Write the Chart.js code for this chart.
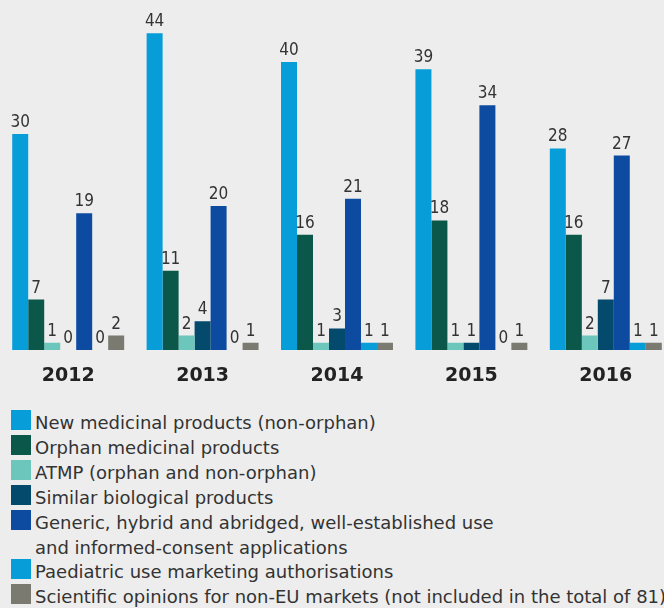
<!DOCTYPE html>
<html>
<head>
<meta charset="utf-8">
<script src="https://cdn.jsdelivr.net/npm/chart.js@4/dist/chart.umd.min.js"></script>
<style>
  html, body { margin: 0; padding: 0; background: #ededed; overflow: hidden; width: 664px; height: 608px; }
  #wrap { position: absolute; left: 0; top: 0; width: 673px; height: 395px; }
  #legend { position: absolute; left: 11px; top: 411px; width: 700px; font-family: "DejaVu Sans", sans-serif; font-size: 18px; color: #333; white-space: pre; }
  .row { display: flex; align-items: flex-start; line-height: 24.9px; }
  .sw { width: 20px; height: 20px; margin-top: -1px; margin-right: 4px; flex: none; }
  .txt { white-space: pre; flex: none; }
</style>
</head>
<body>
<div id="wrap"><canvas id="c" width="673" height="395"></canvas></div>
<div id="legend"></div>
<script>
const years = ["2012", "2013", "2014", "2015", "2016"];
const seriesLabels = [
  "New medicinal products (non-orphan)",
  "Orphan medicinal products",
  "ATMP (orphan and non-orphan)",
  "Similar biological products",
  "Generic, hybrid and abridged, well-established use\nand informed-consent applications",
  "Paediatric use marketing authorisations",
  "Scientific opinions for non-EU markets (not included in the total of 81)"
];
const seriesColors = ["#079dd9", "#0b574a", "#6cc6bc", "#034a6c", "#0c4ba0", "#079dd9", "#7a7a70"];
const newMedicinal = [30, 44, 40, 39, 28];
const orphan = [7, 11, 16, 18, 16];
const atmp = [1, 2, 1, 1, 2];
const similarBio = [0, 4, 3, 1, 7];
const generic = [19, 20, 21, 34, 27];
const paediatric = [0, 0, 1, 0, 1];
const scientific = [2, 1, 1, 1, 1];
const seriesValues = [newMedicinal, orphan, atmp, similarBio, generic, paediatric, scientific];

const valueLabels = {
  id: 'valueLabels',
  afterDatasetsDraw(chart) {
    const ctx = chart.ctx;
    ctx.save();
    ctx.font = '17px "DejaVu Sans Condensed", "DejaVu Sans", sans-serif';
    ctx.fillStyle = '#333';
    ctx.textAlign = 'center';
    ctx.textBaseline = 'bottom';
    chart.data.datasets.forEach((ds, i) => {
      const meta = chart.getDatasetMeta(i);
      meta.data.forEach((el, j) => {
        ctx.fillText(String(ds.data[j]), el.x, el.y - 3);
      });
    });
    ctx.restore();
  }
};

const chart = new Chart(document.getElementById('c'), {
  type: 'bar',
  data: {
    labels: years,
    datasets: seriesLabels.map((l, i) => ({
      label: l,
      data: seriesValues[i],
      backgroundColor: seriesColors[i],
      borderWidth: 0,
      barPercentage: 1,
      categoryPercentage: 0.833
    }))
  },
  options: {
    responsive: false,
    animation: false,
    layout: { padding: { left: 1, right: 0, top: 4.4, bottom: 0 } },
    plugins: { legend: { display: false }, tooltip: { enabled: false } },
    scales: {
      x: {
        grid: { display: false, drawTicks: false },
        border: { display: false },
        ticks: {
          color: '#222',
          padding: 15,
          font: { family: '"DejaVu Sans", sans-serif', size: 19, weight: 'bold' }
        },
        afterFit(s) { s.height = 45; }
      },
      y: { display: false, min: 0, max: 48 }
    }
  },
  plugins: [valueLabels]
});

const legend = document.getElementById('legend');
chart.data.datasets.forEach(ds => {
  const row = document.createElement('div');
  row.className = 'row';
  const sw = document.createElement('div');
  sw.className = 'sw';
  sw.style.background = ds.backgroundColor;
  const t = document.createElement('div');
  t.className = 'txt';
  t.textContent = ds.label;
  row.appendChild(sw);
  row.appendChild(t);
  legend.appendChild(row);
});
</script>
</body>
</html>
